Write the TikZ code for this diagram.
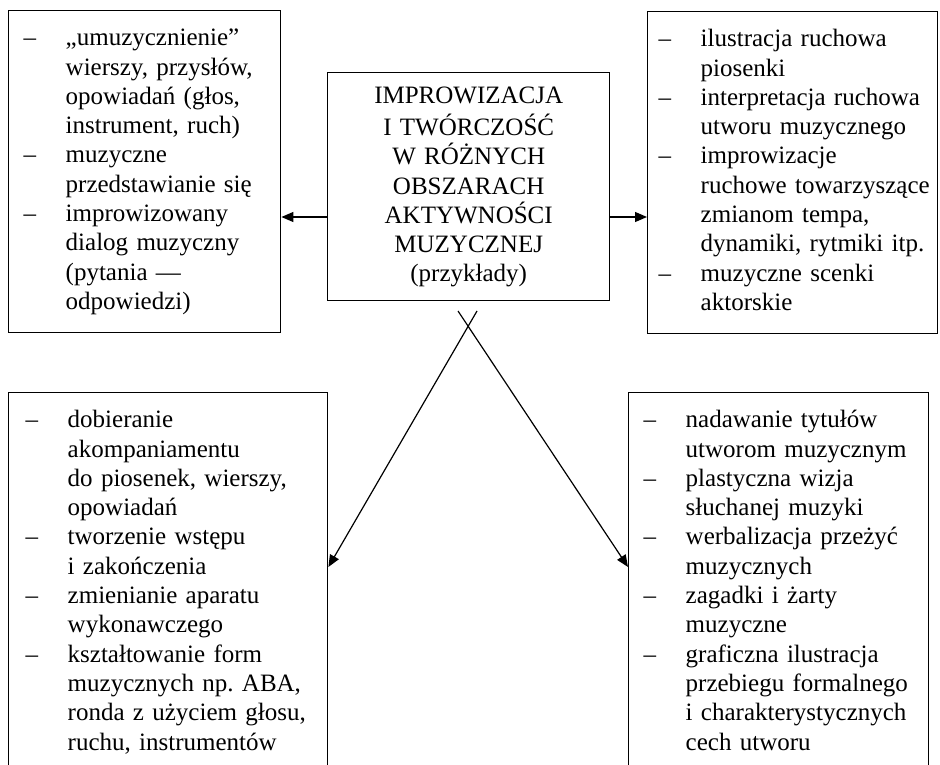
\documentclass[tikz,border=0pt]{standalone}
\usepackage{fontspec}
\setmainfont{Liberation Serif}
\usepackage{tikz}
\usetikzlibrary{calc,arrows.meta,positioning}

\newcommand{\boxfont}{\fontsize{12.5}{14.65}\selectfont}
\newcommand{\pkt}[1]{\strut\makebox[21pt][l]{–}\mbox{#1}}
\newcommand{\dalej}[1]{\strut\hspace*{21pt}\mbox{#1}}

\tikzset{
  ramka/.style={draw, line width=0.7pt, anchor=north west, align=left, inner ysep=7.25pt, font=\boxfont},
  pijl/.style={line width=0.6pt, -{Triangle[length=6pt,width=5pt]}}
}

\begin{document}
\begin{tikzpicture}[x=0.5pt,y=-0.5pt]
            \useasboundingbox (0,0) rectangle (940,764);
            \clip (0,0) rectangle (940,764);
            \node[ramka, inner xsep=7.5pt, text width=121pt] (lt) at (8,10) {\pkt{,,umuzycznienie''}\\ \dalej{wierszy, przysłów,}\\ \dalej{opowiadań (głos,}\\ \dalej{instrument, ruch)}\\ \pkt{muzyczne}\\ \dalej{przedstawianie się}\\ \pkt{improwizowany}\\ \dalej{dialog muzyczny}\\ \dalej{(pytania —}\\ \dalej{odpowiedzi)}};
            \node[ramka, inner xsep=5.5pt, text width=134pt] (rt) at (647,11) {\pkt{ilustracja ruchowa}\\ \dalej{piosenki}\\ \pkt{interpretacja ruchowa}\\ \dalej{utworu muzycznego}\\ \pkt{improwizacje}\\ \dalej{ruchowe towarzyszące}\\ \dalej{zmianom tempa,}\\ \dalej{dynamiki, rytmiki itp.}\\ \pkt{muzyczne scenki}\\ \dalej{aktorskie}};
            \node[ramka, align=center, inner xsep=5pt, inner ysep=5pt, text width=131pt] (ctr) at (327,72) {\strut IMPROWIZACJA\\ I TWÓRCZOŚĆ\\ W RÓŻNYCH\\ OBSZARACH\\ AKTYWNOŚCI\\ MUZYCZNEJ\\ (przykłady)\strut};
            \node[ramka, inner xsep=8.5pt, text width=142.5pt] (lb) at (8,392) {\pkt{dobieranie}\\ \dalej{akompaniamentu}\\ \dalej{do piosenek, wierszy,}\\ \dalej{opowiadań}\\ \pkt{tworzenie wstępu}\\ \dalej{i zakończenia}\\ \pkt{zmienianie aparatu}\\ \dalej{wykonawczego}\\ \pkt{kształtowanie form}\\ \dalej{muzycznych np.\ ABA,}\\ \dalej{ronda z użyciem głosu,}\\ \dalej{ruchu, instrumentów}};
            \node[ramka, inner xsep=7.5pt, text width=135pt] (rb) at (628,392) {\pkt{nadawanie tytułów}\\ \dalej{utworom muzycznym}\\ \pkt{plastyczna wizja}\\ \dalej{słuchanej muzyki}\\ \pkt{werbalizacja przeżyć}\\ \dalej{muzycznych}\\ \pkt{zagadki i żarty}\\ \dalej{muzyczne}\\ \pkt{graficzna ilustracja}\\ \dalej{przebiegu formalnego}\\ \dalej{i charakterystycznych}\\ \dalej{cech utworu}};
            \coordinate (rzad) at (0,217);
            \coordinate (xl) at (477,311);
            \coordinate (xr) at (458,311);
            \coordinate (grot) at (0,567);
            \draw[pijl] (ctr.west |- rzad)--(lt.east |- rzad);
            \draw[pijl] (ctr.east |- rzad)--(rt.west |- rzad);
            \draw[pijl] (xl)--(lb.east |- grot);
            \draw[pijl] (xr)--(rb.west |- grot);
        \end{tikzpicture}
\end{document}
